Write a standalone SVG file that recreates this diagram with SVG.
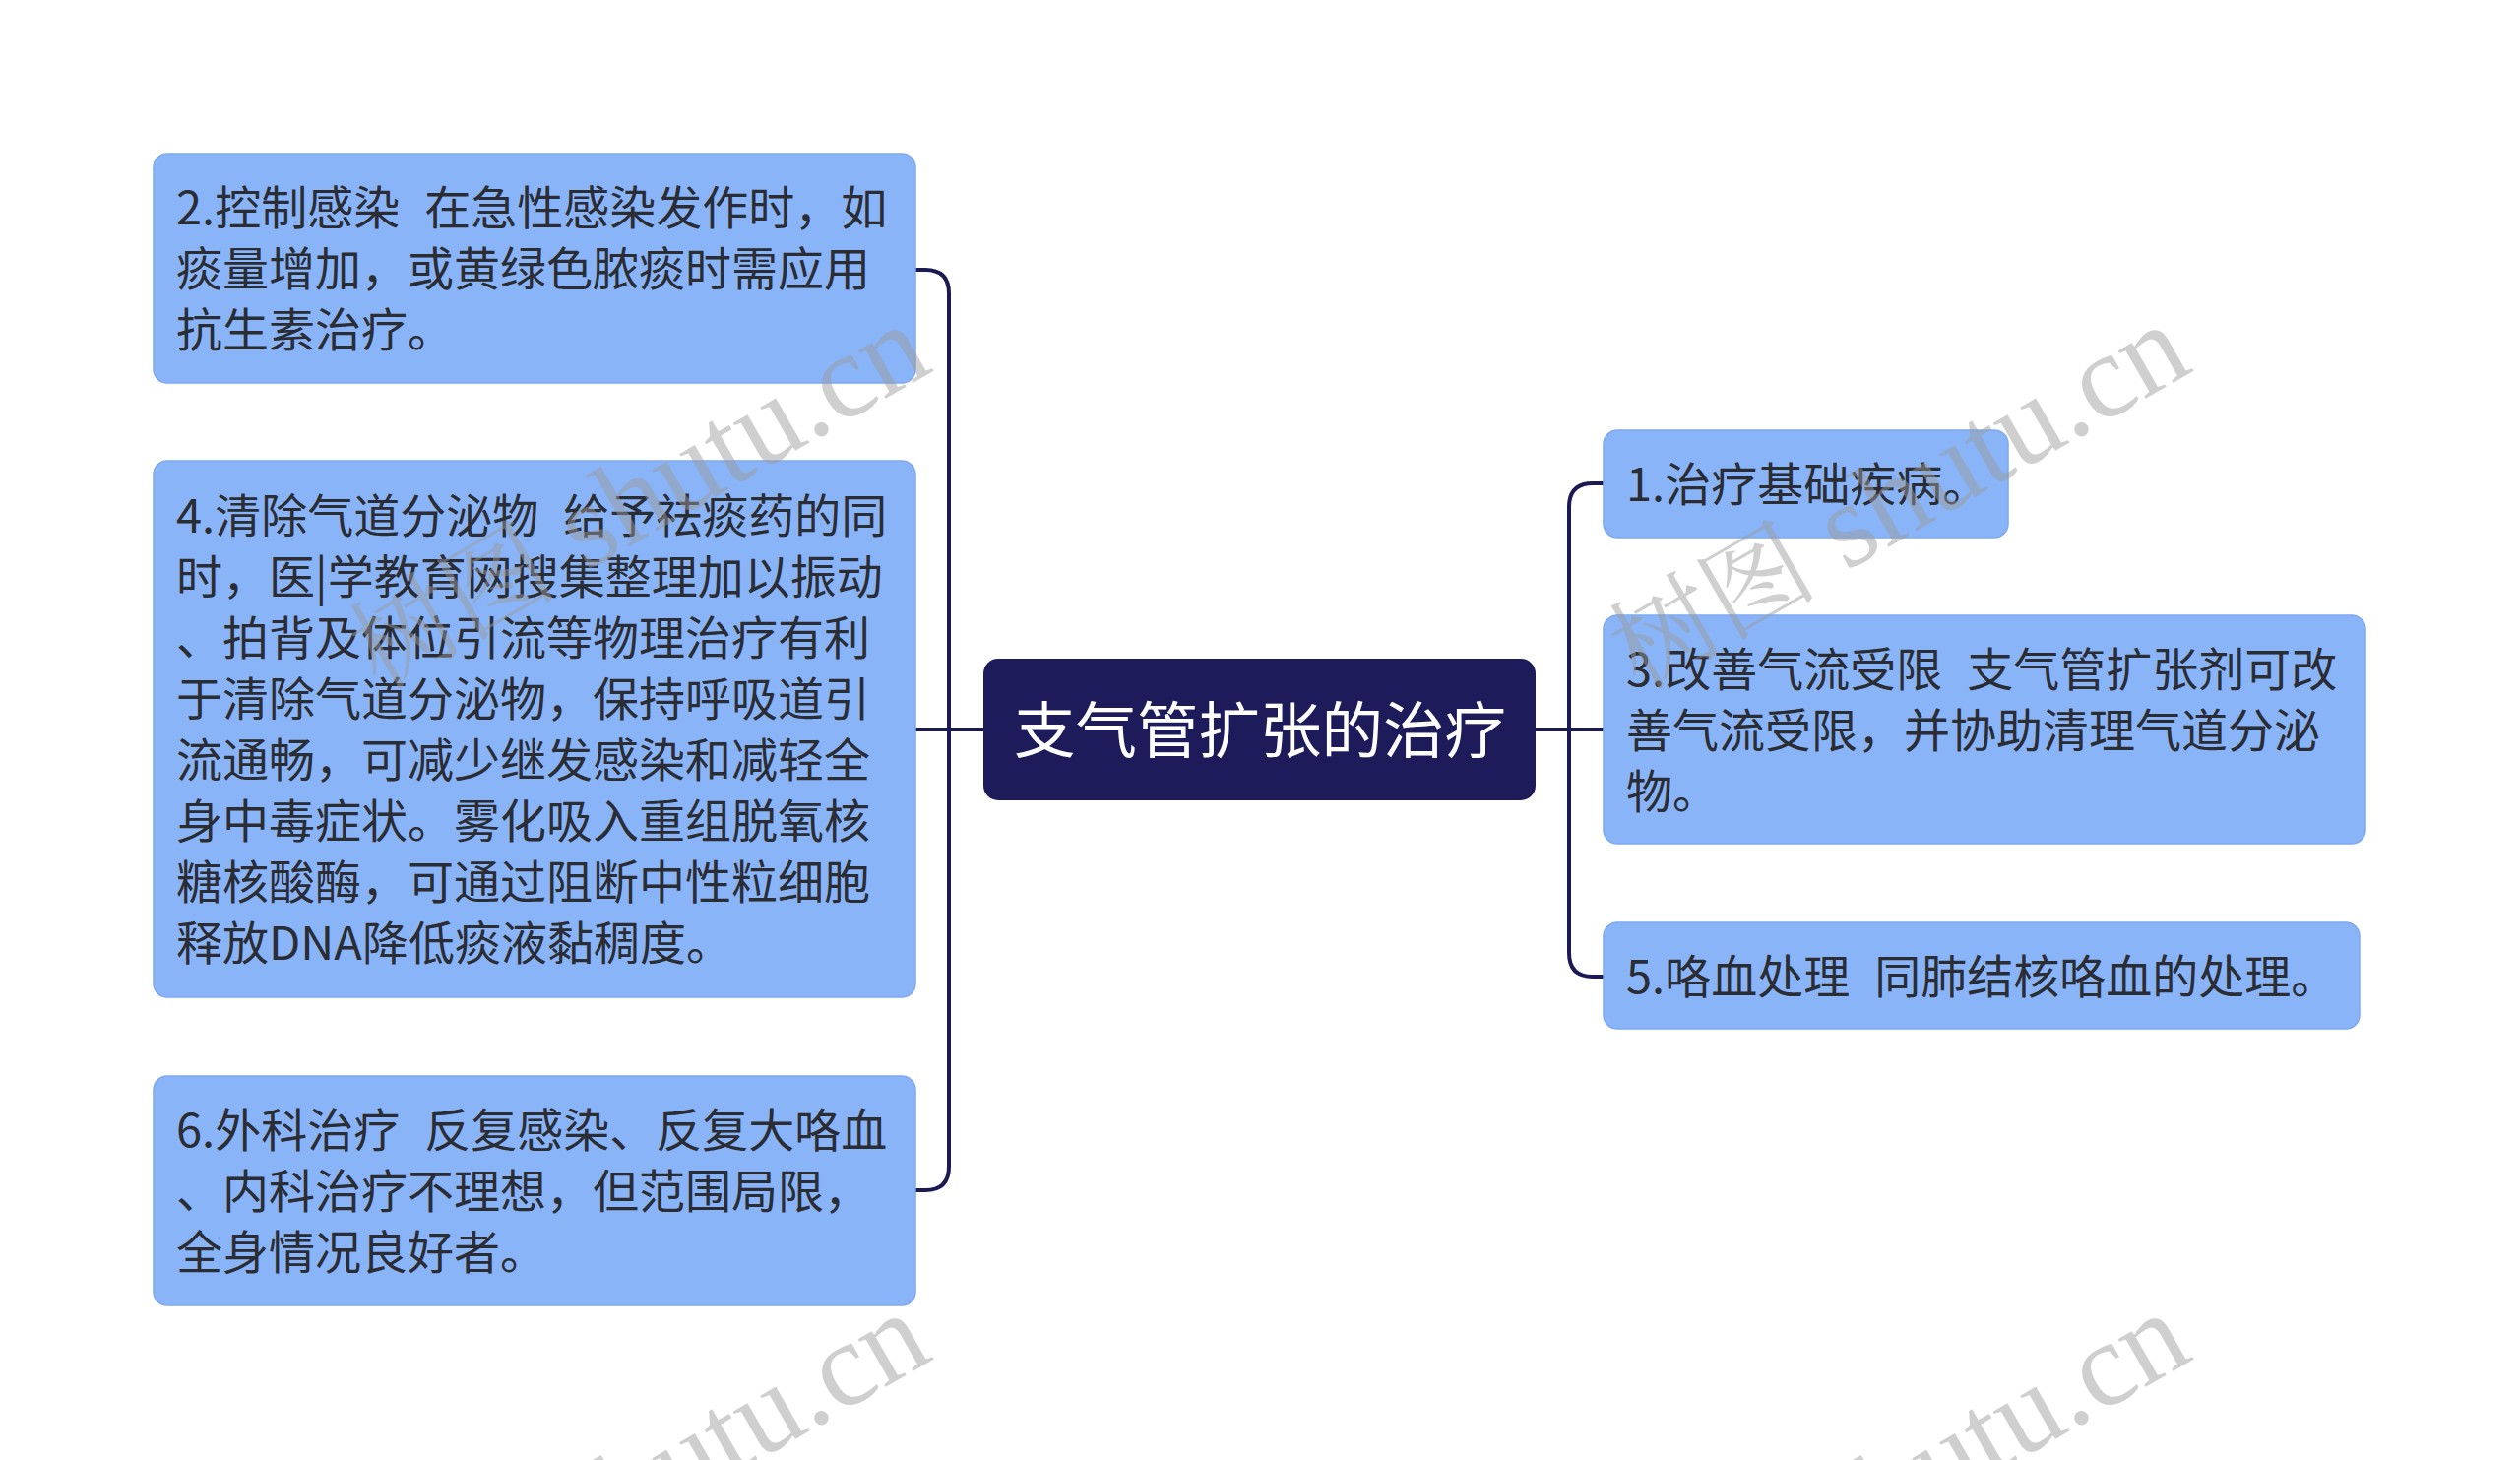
<svg xmlns="http://www.w3.org/2000/svg" width="2560" height="1483" viewBox="0 0 2560 1483">
<style>
.bg{fill:#ffffff}
.box{fill:#8ab4f8;stroke:#7fa9f0;stroke-width:1.5}
.root{fill:#1d1b5a}
.t{font-family:"Noto Sans CJK SC","Noto Sans",sans-serif;font-size:47px;fill:#2b2d35;word-spacing:2px}
.rt{font-family:"Noto Sans CJK SC","Noto Sans",sans-serif;font-size:62.5px;fill:#ffffff}
.link{fill:none;stroke:#1b1a55;stroke-width:4;stroke-linecap:round;stroke-linejoin:round}
.wm{font-family:"Liberation Serif","Noto Serif CJK SC","Noto Sans CJK SC",serif;fill:#9a9a9a;fill-opacity:0.48}
.wc{font-size:106px}
.wl{font-size:122px}
</style>
<rect class="bg" x="0" y="0" width="2560" height="1483"/>
<g id="connectors">
<path class="link" d="M999 741 H930"/>
<path class="link" d="M930 274 H940 Q964 274 964 298 V1185 Q964 1209 940 1209 H930"/>
<path class="link" d="M1560 741 H1629"/>
<path class="link" d="M1629 491 H1618 Q1594 491 1594 515 V968 Q1594 992 1618 992 H1629"/>
</g>
<g id="root">
<rect class="root" x="999" y="669" width="561" height="144" rx="15"/>
<text class="rt" x="1280" y="765" text-anchor="middle">支气管扩张的治疗</text>
</g>
<g id="node2">
<rect class="box" x="156" y="156" width="774" height="233" rx="14"/>
<text class="t" xml:space="preserve"><tspan x="179" y="228">2.控制感染  在急性感染发作时，如</tspan><tspan x="179" y="290">痰量增加，或黄绿色脓痰时需应用</tspan><tspan x="179" y="352">抗生素治疗。</tspan></text>
</g>
<g id="node4">
<rect class="box" x="156" y="468" width="774" height="545" rx="14"/>
<text class="t" xml:space="preserve"><tspan x="179" y="541">4.清除气道分泌物  给予祛痰药的同</tspan><tspan x="179" y="603">时，医|学教育网搜集整理加以振动</tspan><tspan x="179" y="665">、拍背及体位引流等物理治疗有利</tspan><tspan x="179" y="727">于清除气道分泌物，保持呼吸道引</tspan><tspan x="179" y="789">流通畅，可减少继发感染和减轻全</tspan><tspan x="179" y="851">身中毒症状。雾化吸入重组脱氧核</tspan><tspan x="179" y="913">糖核酸酶，可通过阻断中性粒细胞</tspan><tspan x="179" y="975">释放DNA降低痰液黏稠度。</tspan></text>
</g>
<g id="node6">
<rect class="box" x="156" y="1093" width="774" height="233" rx="14"/>
<text class="t" xml:space="preserve"><tspan x="179" y="1165">6.外科治疗  反复感染、反复大咯血</tspan><tspan x="179" y="1227">、内科治疗不理想，但范围局限，</tspan><tspan x="179" y="1289">全身情况良好者。</tspan></text>
</g>
<g id="node1">
<rect class="box" x="1629" y="437" width="411" height="109" rx="14"/>
<text class="t" x="1652" y="509">1.治疗基础疾病。</text>
</g>
<g id="node3">
<rect class="box" x="1629" y="625" width="774" height="232" rx="14"/>
<text class="t" xml:space="preserve"><tspan x="1652" y="696.5">3.改善气流受限  支气管扩张剂可改</tspan><tspan x="1652" y="758.5">善气流受限，并协助清理气道分泌</tspan><tspan x="1652" y="820.5">物。</tspan></text>
</g>
<g id="node5">
<rect class="box" x="1629" y="937" width="768" height="108" rx="14"/>
<text class="t" x="1652" y="1008.5" xml:space="preserve">5.咯血处理  同肺结核咯血的处理。</text>
</g>
<g id="watermarks">
<text class="wm" x="385" y="702" transform="rotate(-30 385 702)"><tspan class="wc">树图</tspan><tspan class="wl"> shutu.cn</tspan></text>
<text class="wm" x="1665" y="702" transform="rotate(-30 1665 702)"><tspan class="wc">树图</tspan><tspan class="wl"> shutu.cn</tspan></text>
<text class="wm" x="385" y="1706" transform="rotate(-30 385 1706)"><tspan class="wc">树图</tspan><tspan class="wl"> shutu.cn</tspan></text>
<text class="wm" x="1665" y="1706" transform="rotate(-30 1665 1706)"><tspan class="wc">树图</tspan><tspan class="wl"> shutu.cn</tspan></text>
</g>
</svg>
